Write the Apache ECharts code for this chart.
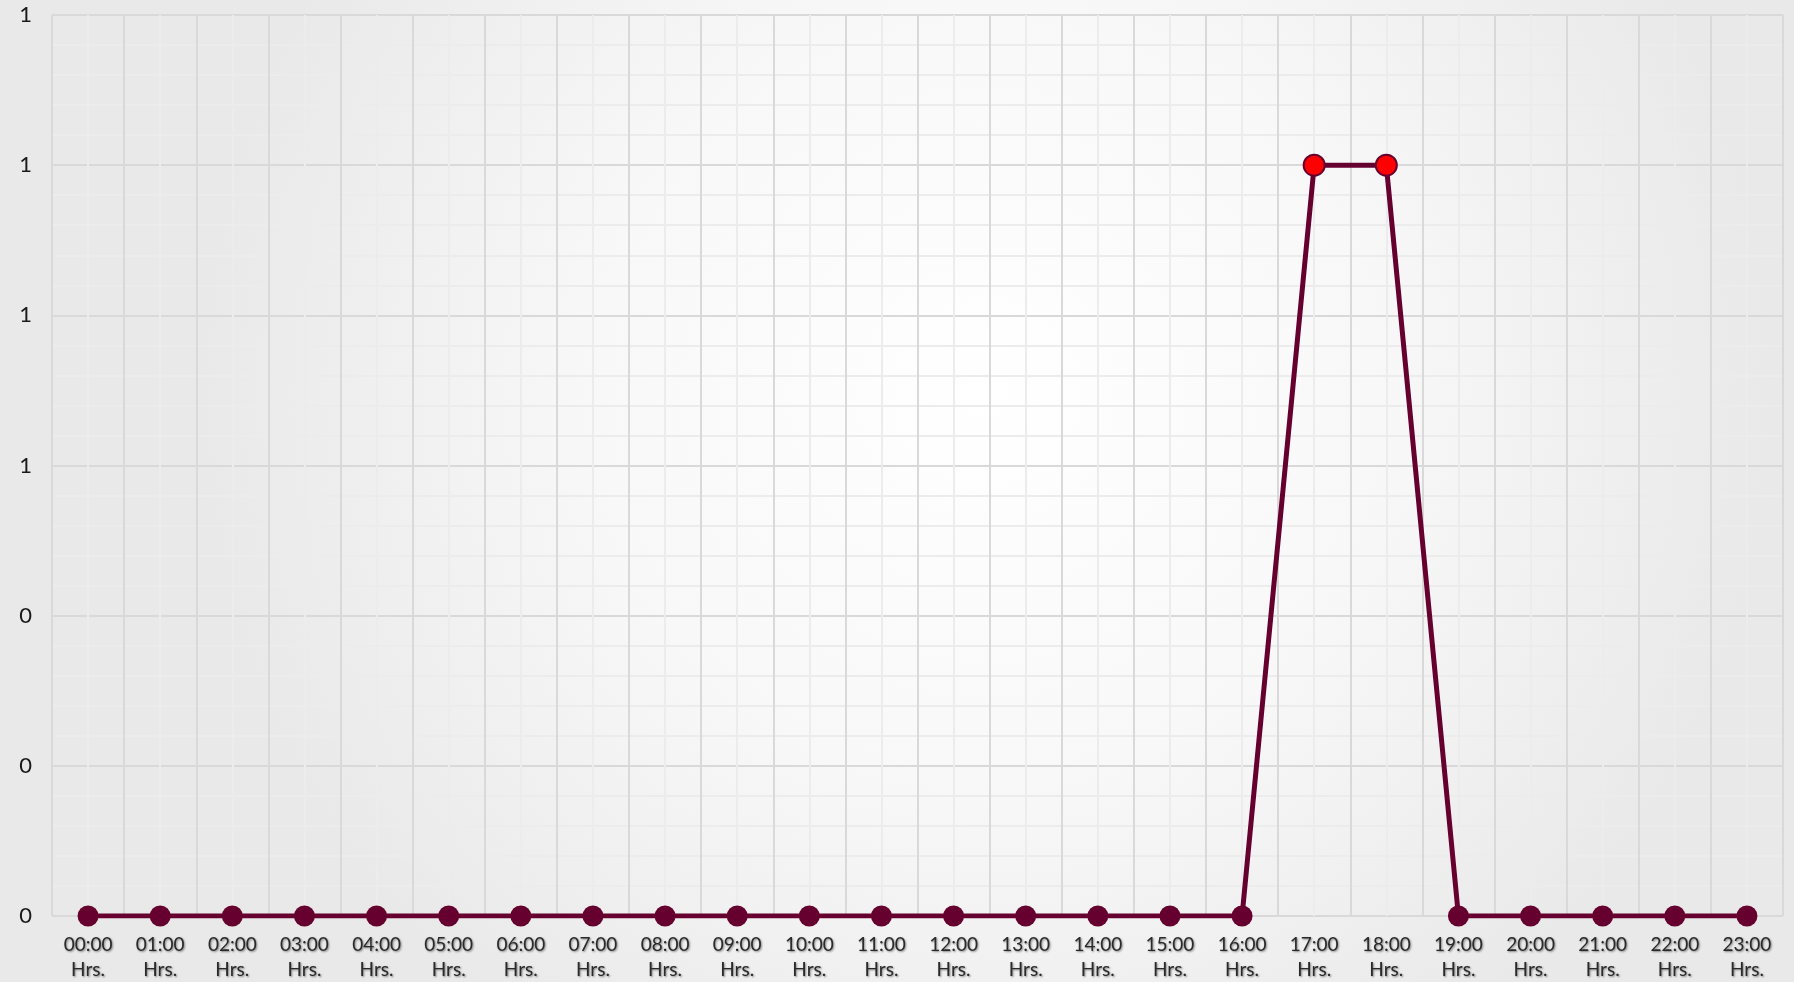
<!DOCTYPE html>
<html>
<head>
<meta charset="utf-8">
<script src="https://cdn.jsdelivr.net/npm/echarts@6/dist/echarts.min.js"></script>
<style>
html,body{margin:0;padding:0;}
#c{width:1794px;height:982px;}
</style>
</head>
<body>
<div id="c"></div>
<script>
var categories = ["00:00","01:00","02:00","03:00","04:00","05:00","06:00","07:00","08:00","09:00","10:00","11:00","12:00","13:00","14:00","15:00","16:00","17:00","18:00","19:00","20:00","21:00","22:00","23:00"];
var values = [0,0,0,0,0,0,0,0,0,0,0,0,0,0,0,0,0,1,1,0,0,0,0,0];
var highlightIndexes = [17,18];
var yMin = 0, yMax = 1.2, yInterval = 0.2;

var chart = echarts.init(document.getElementById('c'));
var seriesData = values.map(function(v,i){
  if (highlightIndexes.indexOf(i) >= 0) {
    return {value:v, itemStyle:{color:'#ff0000', borderColor:'#66002f', borderWidth:2}};
  }
  return v;
});
chart.setOption({
  backgroundColor: {
    type:'radial', x:0.55, y:0.4, r:0.8,
    colorStops:[{offset:0,color:'#ffffff'},{offset:0.5,color:'#f8f8f8'},{offset:1,color:'#e9e9e9'}]
  },
  textStyle:{fontFamily:'Lato, "Open Sans", sans-serif'},
  grid:{left:52,right:11,top:15,bottom:65},
  xAxis:[{
    type:'category', data:categories, boundaryGap:true,
    axisLine:{show:false}, axisTick:{show:false},
    axisLabel:{
      interval:0, margin:16, fontSize:19, lineHeight:25, color:'#2a2a2a',
      textShadowColor:'rgba(0,0,0,0.45)', textShadowBlur:2, textShadowOffsetX:1, textShadowOffsetY:1,
      formatter:function(v){return v+'\nHrs.';}
    },
    splitLine:{show:true, lineStyle:{color:'#d9d9d9', width:2}}
  },{
    type:'value', min:0, max:categories.length, interval:1, show:true, position:'top',
    axisLine:{show:false}, axisTick:{show:false}, axisLabel:{show:false},
    splitLine:{show:false},
    minorTick:{show:false, splitNumber:2},
    minorSplitLine:{show:true, lineStyle:{color:'#ececec', width:2}}
  }],
  yAxis:{
    type:'value', min:yMin, max:yMax, interval:yInterval,
    axisLine:{show:false}, axisTick:{show:false},
    axisLabel:{
      margin:20, fontSize:22, color:'#1a1a1a',
      formatter:function(v){return String(Math.round(v));}
    },
    splitLine:{show:true, lineStyle:{color:'#d9d9d9', width:2}},
    minorTick:{show:false, splitNumber:5},
    minorSplitLine:{show:true, lineStyle:{color:'#ececec', width:2}}
  },
  series:[{
    type:'line', xAxisIndex:0, data:seriesData,
    symbol:'circle', symbolSize:21,
    lineStyle:{color:'#66002f', width:5},
    itemStyle:{color:'#66002f'},
    z:5
  }]
});
</script>
</body>
</html>
